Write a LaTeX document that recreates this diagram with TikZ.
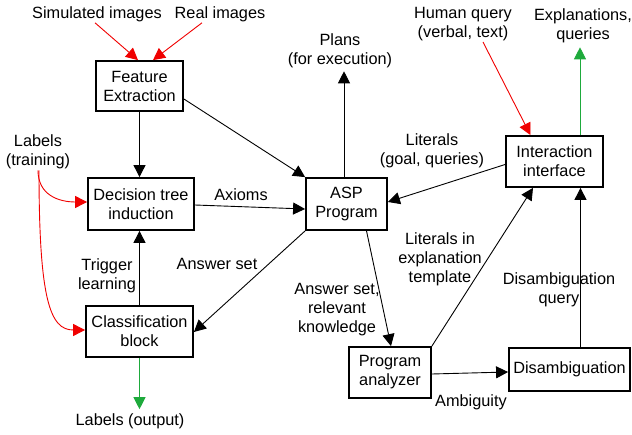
\documentclass[tikz,border=0pt]{standalone}
\usepackage{fontspec}
\setmainfont{Liberation Sans}
\usetikzlibrary{arrows.meta,calc}
\definecolor{myred}{RGB}{240,0,0}
\definecolor{mygreen}{RGB}{30,170,60}
\begin{document}
\begin{tikzpicture}[x=1pt,y=-1pt,
  font=\fontsize{16.3}{19}\selectfont,
  box/.style={draw,line width=1.8pt,inner sep=0pt,align=center},
  txt/.style={inner sep=1pt,align=center},
  conn/.style={draw,line width=0.9pt,-{Triangle[length=12pt,width=12pt]}},
  redc/.style={conn,myred},
  greenc/.style={conn,mygreen}]
\useasboundingbox (0,0) rectangle (632,435);
% boxes
\node[box,minimum width=87,minimum height=50] (fe) at (139.5,86) {Feature\\Extraction};
\node[box,minimum width=106,minimum height=52] (dt) at (141,204) {Decision tree\\induction};
\node[box,minimum width=107,minimum height=51] (cb) at (139.5,331.5) {Classification\\block};
\node[box,minimum width=81,minimum height=52] (asp) at (346.5,204) {ASP\\Program};
\node[box,minimum width=97,minimum height=51] (ii) at (554.5,161.5) {Interaction\\interface};
\node[box,minimum width=82,minimum height=51] (pa) at (390,372.5) {Program\\analyzer};
\node[box,minimum width=121,minimum height=43] (dis) at (569.5,369.5) {Disambiguation};
% free texts
\node[txt] (sim) at (97,14) {Simulated images};
\node[txt] (real) at (220,14) {Real images};
\node[txt] (lt) at (38,152) {Labels\\(training)};
\node[txt] (plans) at (340,51) {Plans\\(for execution)};
\node[txt] (hq) at (463,24) {Human query\\(verbal, text)};
\node[txt] (ex) at (583,26) {Explanations,\\queries};
\node[txt] (lo) at (130,421) {Labels (output)};
% edge labels
\node[txt] (axl) at (241,195) {Axioms};
\node[txt] (trl) at (107,276) {Trigger\\learning};
\node[txt] (asl) at (217,264) {Answer set};
\node[txt] (lgl) at (432,151) {Literals\\(goal, queries)};
\node[txt] (arl) at (337,310) {Answer set,\\relevant\\knowledge};
\node[txt] (lil) at (440,259) {Literals in\\explanation\\template};
\node[txt] (aml) at (471,402) {Ambiguity};
\node[txt] (dql) at (559,290) {Disambiguation\\query};
% connectors
\draw[redc] ([shift={(-2,0)}]sim.south) -- ([shift={(-1.5,0)}]fe.north);
\draw[redc] ([shift={(-18,0)}]real.south) -- ([shift={(13.5,0)}]fe.north);
\draw[redc] (lt.south) .. controls +(0,25) and +(-28,0) .. ([shift={(0,-2)}]dt.west);
\draw[redc] ([shift={(1,0)}]lt.south) .. controls +(0,130) and +(-35,0) .. ([shift={(0,-1.5)}]cb.west);
\draw[conn] (fe.south) -- (fe.south |- dt.north);
\draw[conn] ([shift={(0,13)}]fe.east) -- (asp.north west);
\draw[conn] ([shift={(0,1)}]dt.east) -- ([shift={(0,5)}]asp.west);
\draw[conn] (cb.north) -- (cb.north |- dt.south);
\draw[conn] (asp.south west) -- ([shift={(0,0.5)}]cb.east);
\draw[greenc] (cb.south) -- ([shift={(0,-3)}]cb.south |- lo.north);
\draw[conn] ([shift={(-2.5,0)}]asp.north) -- ([shift={(-2.5,2)}]asp.north |- plans.south);
\draw[conn] ([shift={(0,3)}]ii.west) -- ([shift={(0,-2)}]asp.east);
\draw[redc] ([shift={(20,0)}]hq.south) -- ([shift={(-24,0)}]ii.north);
\draw[greenc] ([shift={(25.5,0)}]ii.north) -- ([shift={(25.5,3)}]ii.north |- ex.south);
\draw[conn] ([shift={(20,0)}]asp.south) -- ([shift={(1,0)}]pa.north);
\draw[conn] (pa.north east) -- ([shift={(-21.5,0)}]ii.south);
\draw[conn] ([shift={(0,1.5)}]pa.east) -- ([shift={(0,2.5)}]dis.west);
\draw[conn] ([shift={(11,0)}]dis.north) -- ([shift={(11,0)}]dis.north |- ii.south);
\end{tikzpicture}
\end{document}
